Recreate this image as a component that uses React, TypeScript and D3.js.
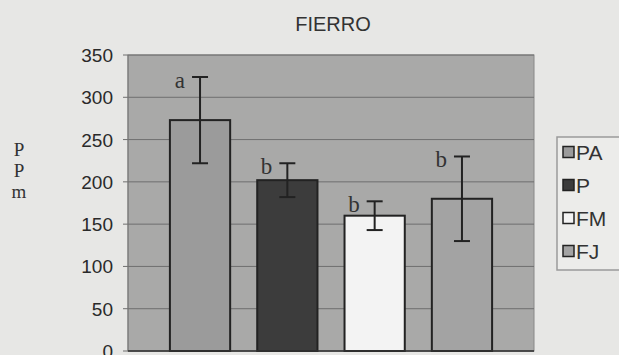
import React from "react";
import * as d3 from "d3";

const categories = ["PA", "P", "FM", "FJ"];
const means = [273, 202, 160, 180];
const errors = [51, 20, 17, 50];
const letters = ["a", "b", "b", "b"];
const yTicks = [0, 50, 100, 150, 200, 250, 300, 350];
const colors = ["#9b9b9b", "#3c3c3c", "#f3f3f3", "#a3a3a3"];
const title = "FIERRO";
const yLabel = ["P", "P", "m"];

const W = 619, H = 355;
const plot = { left: 128, right: 534, top: 55, bottom: 351 };

export default function App() {
  const x = d3.scaleBand<string>().domain(categories).range([plot.left, plot.right]).paddingInner(0.31).paddingOuter(0.48);
  const y = d3.scaleLinear().domain([0, 350]).range([plot.bottom, plot.top]);
  const bw = x.bandwidth();
  return (
    <svg width={W} height={H} style={{ position: "absolute", left: 0, top: 0, background: "#e7e7e5" }}>
      <rect x={0} y={0} width={W} height={H} fill="#e7e7e5" />
      <text x={333} y={31} textAnchor="middle" fontFamily="Liberation Sans, Arial, sans-serif" fontSize={20} fill="#333">{title}</text>
      <rect x={plot.left} y={plot.top} width={plot.right - plot.left} height={plot.bottom - plot.top} fill="#a9a9a8" stroke="#888" strokeWidth={1} />
      {yTicks.map((t) => (
        <g key={t}>
          <line x1={plot.left - 5} x2={plot.right} y1={y(t)} y2={y(t)} stroke="#6f6f6f" strokeWidth={1} />
          <text x={113} y={y(t) + 7} textAnchor="end" fontFamily="Liberation Sans, Arial, sans-serif" fontSize={19} fill="#2a2a2a">{t}</text>
        </g>
      ))}
      <line x1={plot.left} x2={plot.left} y1={plot.top} y2={plot.bottom} stroke="#777" strokeWidth={1} />
      {yLabel.map((c, i) => (
        <text key={i} x={19} y={156 + i * 21} textAnchor="middle" fontFamily="Liberation Serif, Times New Roman, serif" fontSize={19} fill="#333">{c}</text>
      ))}
      {categories.map((c, i) => {
        const bx = x(c)!;
        const cx = bx + bw / 2;
        const top = y(means[i] + errors[i]);
        const bot = y(means[i] - errors[i]);
        return (
          <g key={c}>
            <rect x={bx} y={y(means[i])} width={bw} height={plot.bottom - y(means[i])} fill={colors[i]} stroke="#222" strokeWidth={2} />
            <line x1={cx} x2={cx} y1={top} y2={bot} stroke="#222" strokeWidth={2} />
            <line x1={cx - 8} x2={cx + 8} y1={top} y2={top} stroke="#222" strokeWidth={2} />
            <line x1={cx - 8} x2={cx + 8} y1={bot} y2={bot} stroke="#222" strokeWidth={2} />
            <text x={cx - 15} y={top + 11} textAnchor="end" fontFamily="Liberation Serif, Times New Roman, serif" fontSize={23} fill="#333">{letters[i]}</text>
          </g>
        );
      })}
      <line x1={plot.left} x2={plot.right} y1={plot.bottom} y2={plot.bottom} stroke="#333" strokeWidth={1.5} />
      <rect x={557} y={137} width={80} height={133} fill="#ececea" stroke="#9a9a9a" strokeWidth={1.5} />
      {categories.map((c, i) => {
        const cy = 152 + i * 33;
        return (
          <g key={c}>
            <rect x={563} y={cy - 5.5} width={11} height={11} fill={colors[i]} stroke="#222" strokeWidth={1.5} />
            <text x={576} y={cy + 8} fontFamily="Liberation Sans, Arial, sans-serif" fontSize={21} fill="#333">{c}</text>
          </g>
        );
      })}
    </svg>
  );
}
